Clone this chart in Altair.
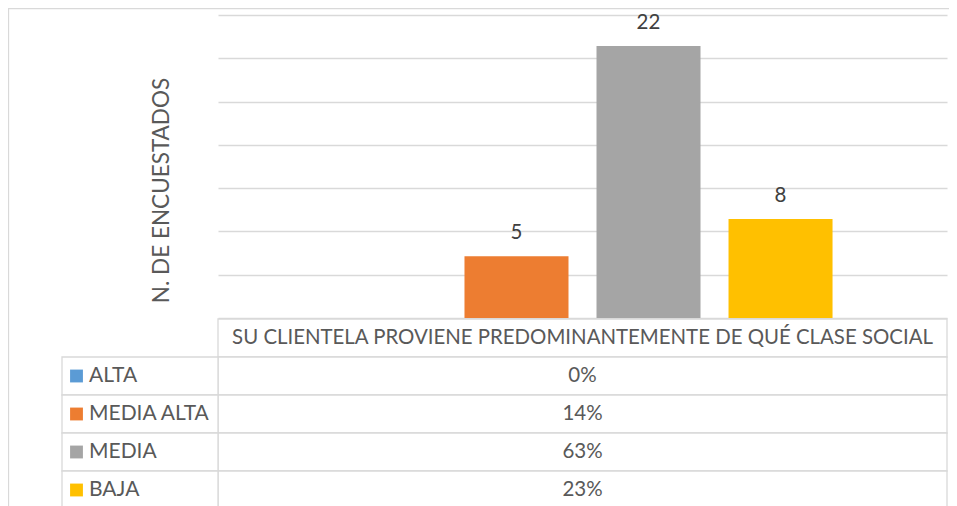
import altair as alt
import pandas as pd

# ---- data ----
categories = ["ALTA", "MEDIA ALTA", "MEDIA", "BAJA"]
counts = [0, 5, 22, 8]
pct_labels = ["0%", "14%", "63%", "23%"]
colors = ["#5B9BD5", "#ED7D31", "#A5A5A5", "#FFC000"]
header_title = "SU CLIENTELA PROVIENE PREDOMINANTEMENTE DE QUÉ CLASE SOCIAL"
y_title = "N. DE ENCUESTADOS"
grid_values = [0, 3.5, 7, 10.5, 14, 17.5, 21, 24.5]

FONT = "Lato"
TXT = "#595959"
LINE = "#d9d9d9"
W, H = 729, 303

bars_df = pd.DataFrame({"cat": categories, "n": counts})
rows = ["header"] + categories
table_df = pd.DataFrame({
    "row": rows,
    "cat": [""] + categories,
    "txt": [header_title] + pct_labels,
})

color_scale = alt.Scale(domain=categories, range=colors)
xenc = alt.X("cat:N", sort=categories,
             scale=alt.Scale(domain=categories, paddingInner=0.2121, paddingOuter=0.867),
             axis=None)
yenc = alt.Y("n:Q", scale=alt.Scale(domain=[0, 24.5], nice=False),
             axis=alt.Axis(values=grid_values, grid=True, gridColor=LINE, gridWidth=1.3,
                           labels=False, ticks=False, domain=False,
                           title=y_title, titleFont=FONT, titleFontSize=22.5,
                           titleFontWeight="normal", titleColor=TXT,
                           titleAngle=-90, titleX=-45, titleY=175,
                           titleAlign="center", titleBaseline="bottom"))

base = alt.Chart(bars_df)
bars = base.mark_bar().encode(
    x=xenc, y=yenc,
    color=alt.Color("cat:N", scale=color_scale, legend=None),
)
labels = base.transform_filter("datum.n > 0").mark_text(
    dy=-17, baseline="alphabetic", font=FONT, fontSize=20.5, color="#404040"
).encode(x=xenc, y=alt.Y("n:Q"), text="n:Q")

plot_layer = alt.layer(bars, labels)

# ---- data table below ----
ty = alt.Y("row:N", sort=rows,
           scale=alt.Scale(domain=rows, range=[304, 494], paddingInner=0, paddingOuter=0),
           axis=None)
tbase = alt.Chart(table_df)
value_cells = tbase.mark_rect(fill="white", stroke=LINE, strokeWidth=1.3).encode(
    y=ty, x=alt.value(0), x2=alt.value(W))
label_cells = tbase.transform_filter("datum.row != 'header'").mark_rect(
    fill="white", stroke=LINE, strokeWidth=1.3).encode(
    y=ty, x=alt.value(-156), x2=alt.value(0))
header_text = tbase.transform_filter("datum.row == 'header'").mark_text(
    font=FONT, fontSize=20.4, color=TXT).encode(
    y=ty, x=alt.value(W / 2), text="txt:N")
value_text = tbase.transform_filter("datum.row != 'header'").mark_text(
    font=FONT, fontSize=20.5, color=TXT).encode(
    y=ty, x=alt.value(W / 2), text="txt:N")
squares = tbase.transform_filter("datum.row != 'header'").mark_square(
    size=165, opacity=1, filled=True).encode(
    y=ty, x=alt.value(-141.5),
    color=alt.Color("cat:N", scale=color_scale, legend=None))
label_text = tbase.transform_filter("datum.row != 'header'").mark_text(
    font=FONT, fontSize=21, color=TXT, align="left").encode(
    y=ty, x=alt.value(-129), text="cat:N")

table_layer = alt.layer(value_cells, label_cells, header_text, value_text, squares, label_text)

# outer frame
frame_left = alt.Chart(pd.DataFrame({"a": [0]})).mark_rule(color=LINE, strokeWidth=1.3).encode(
    x=alt.value(-209.5), y=alt.value(-7), y2=alt.value(510))
frame_top = alt.Chart(pd.DataFrame({"a": [0]})).mark_rule(color=LINE, strokeWidth=1.3).encode(
    x=alt.value(-210), x2=alt.value(W + 2), y=alt.value(-6.5))

chart = alt.layer(frame_left, frame_top, plot_layer, table_layer).resolve_scale(
    y="independent", x="independent"
).properties(
    width=W, height=H,
    autosize=alt.AutoSizeParams(type="none"),
    padding={"left": 210, "top": 7, "right": 2, "bottom": 190},
).configure_view(stroke=None)

chart.save("out.html", embed_options={"renderer": "svg", "actions": False})
